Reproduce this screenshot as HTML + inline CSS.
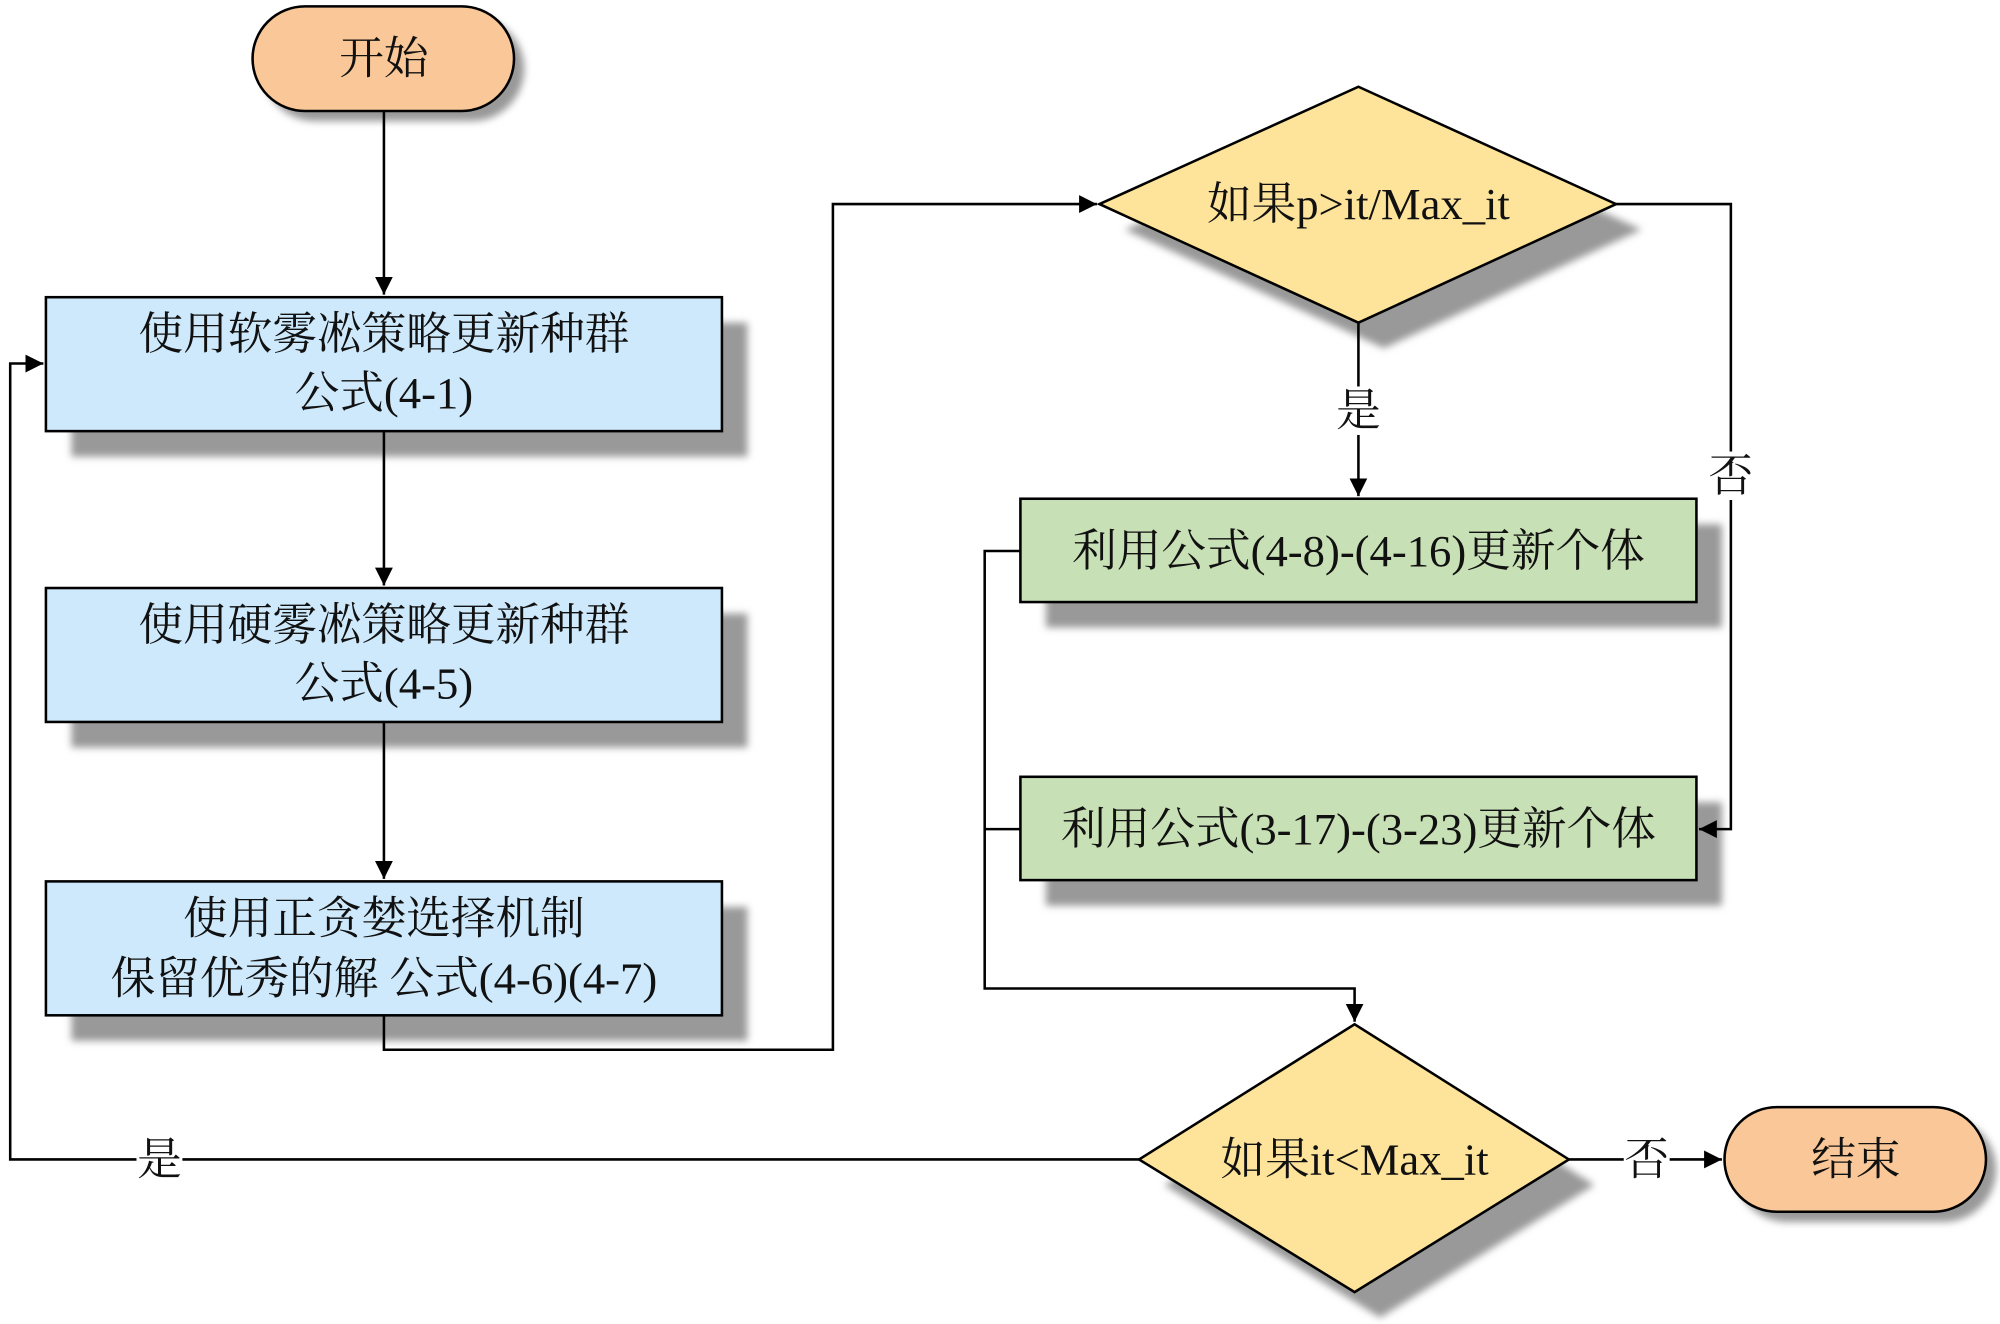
<!DOCTYPE html>
<html><head><meta charset="utf-8"><style>
html,body{margin:0;padding:0;background:#fff;}
svg{display:block;}
text{font-family:"Liberation Serif","Noto Serif CJK SC","Noto Sans CJK SC",serif;font-size:35px;fill:#111;text-anchor:middle;dominant-baseline:central;}
</style></head><body>
<svg width="2000" height="1324" viewBox="0 0 1568 1038" preserveAspectRatio="none" xmlns="http://www.w3.org/2000/svg">
<defs>
<filter id="b" x="-10%" y="-10%" width="130%" height="130%"><feGaussianBlur stdDeviation="3"/></filter>
<marker id="a" viewBox="0 0 10 10" refX="10" refY="5" markerWidth="14" markerHeight="14" markerUnits="userSpaceOnUse" orient="auto"><path d="M0,0L10,5L0,10z" fill="#000"/></marker>
</defs>
<g fill="#999" filter="url(#b)">
<rect x="206" y="13" width="205" height="82" rx="41"/>
<rect x="56" y="253" width="530" height="105"/>
<rect x="56" y="481" width="530" height="105"/>
<rect x="56" y="711" width="530" height="105"/>
<polygon points="882,180 1085,88 1287,180 1085,273"/>
<rect x="820" y="411" width="530" height="81"/>
<rect x="820" y="629" width="530" height="81"/>
<polygon points="913,929 1082,823 1250,929 1082,1033"/>
<rect x="1360" y="876" width="205" height="82" rx="41"/>
</g>
<g stroke="#000" stroke-width="2" fill="none">
<path d="M301,87V231" marker-end="url(#a)"/>
<path d="M301,338V459" marker-end="url(#a)"/>
<path d="M301,566V689" marker-end="url(#a)"/>
<path d="M301,796V823H653V160H860" marker-end="url(#a)"/>
<path d="M1065,253V389" marker-end="url(#a)"/>
<path d="M1267,160H1357V650H1332" marker-end="url(#a)"/>
<path d="M800,432H772V775H1062V801" marker-end="url(#a)"/>
<path d="M800,650H772"/>
<path d="M893,909H8V285H34" marker-end="url(#a)"/>
<path d="M1230,909H1350" marker-end="url(#a)"/>
</g>
<g stroke="#000" stroke-width="2">
<rect x="198" y="5" width="205" height="82" rx="41" fill="#FAC898"/>
<rect x="36" y="233" width="530" height="105" fill="#CDE9FB"/>
<rect x="36" y="461" width="530" height="105" fill="#CDE9FB"/>
<rect x="36" y="691" width="530" height="105" fill="#CDE9FB"/>
<polygon points="862,160 1065,68 1267,160 1065,253" fill="#FDE49A"/>
<rect x="800" y="391" width="530" height="81" fill="#C8E0B5"/>
<rect x="800" y="609" width="530" height="81" fill="#C8E0B5"/>
<polygon points="893,909 1062,803 1230,909 1062,1013" fill="#FDE49A"/>
<rect x="1352" y="868" width="205" height="82" rx="41" fill="#FAC898"/>
</g>
<rect x="1047" y="303" width="36" height="38" fill="#fff"/>
<rect x="1339" y="354" width="36" height="38" fill="#fff"/>
<rect x="107" y="890" width="36" height="38" fill="#fff"/>
<rect x="1273" y="890" width="36" height="38" fill="#fff"/>
<text x="301" y="46">开始</text>
<text x="301" y="262">使用软雾凇策略更新种群</text>
<text x="301" y="308">公式(4-1)</text>
<text x="301" y="490">使用硬雾凇策略更新种群</text>
<text x="301" y="536">公式(4-5)</text>
<text x="301" y="720">使用正贪婪选择机制</text>
<text x="301" y="767">保留优秀的解 公式(4-6)(4-7)</text>
<text x="1065" y="160">如果p&gt;it/Max_it</text>
<text x="1065" y="432">利用公式(4-8)-(4-16)更新个体</text>
<text x="1065" y="650">利用公式(3-17)-(3-23)更新个体</text>
<text x="1062" y="909">如果it&lt;Max_it</text>
<text x="1455" y="909">结束</text>
<text x="1065" y="322">是</text>
<text x="1357" y="373">否</text>
<text x="125" y="909">是</text>
<text x="1291" y="909">否</text>
</svg>
</body></html>
